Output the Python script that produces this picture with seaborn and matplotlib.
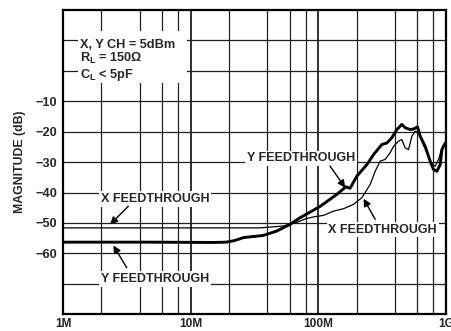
import numpy as np
import pandas as pd
import matplotlib
matplotlib.use("Agg")
import matplotlib.pyplot as plt
from matplotlib.patches import Rectangle
from matplotlib.ticker import FixedLocator, NullFormatter
import seaborn as sns

# Y-channel feedthrough (heavy trace): frequency in MHz, magnitude in dB
y_freq_mhz = [1, 5, 15, 19, 22, 26, 37, 47, 60, 72, 104, 140, 165, 178, 201, 241,
              272, 316, 346, 378, 414, 453, 481, 527, 559, 601, 631, 690, 755, 802,
              853, 905, 934, 991, 1000]
y_feed_db = [-56.3, -56.3, -56.4, -56.3, -55.8, -54.8, -54.1, -52.7, -50.5, -48.3,
             -44.5, -40.6, -38.1, -38.6, -34.6, -30.8, -27.5, -24.2, -23.7, -22.0,
             -19.3, -17.6, -18.7, -19.3, -19.1, -18.4, -21.5, -24.8, -29.7, -32.4,
             -33.0, -30.8, -25.9, -23.7, -23.7]

# X-channel feedthrough (light trace)
x_freq_mhz = [1, 35, 53, 68, 80, 92, 110, 132, 158, 189, 220, 256, 280, 306, 335,
              367, 390, 427, 453, 481, 511, 543, 576, 612, 650, 712, 780, 828, 879,
              934, 1000]
x_feed_db = [-51.6, -51.6, -51.0, -49.8, -48.6, -48.0, -47.5, -46.1, -45.3, -43.9,
             -41.7, -37.3, -33.0, -29.7, -29.1, -26.9, -24.8, -23.1, -22.6, -25.3,
             -25.9, -21.5, -19.8, -20.4, -23.1, -26.9, -30.8, -31.3, -29.1, -25.3,
             -23.7]

x_tick_vals = [1e6, 1e7, 1e8, 1e9]
x_tick_labels = ["1M", "10M", "100M", "1G"]
y_grid_vals = [10, 0, -10, -20, -30, -40, -50, -60, -70]
y_tick_labels = ["", "", "\u221210", "\u221220", "\u221230", "\u221240", "\u221250", "\u221260", ""]

conditions = ["X, Y CH = 5dBm", "R$_\\mathrm{L}$ = 150\u03a9", "C$_\\mathrm{L}$ < 5pF"]

sns.set_style("white")
plt.rcParams["font.family"] = ["Liberation Sans", "DejaVu Sans"]
plt.rcParams["font.weight"] = "bold"
plt.rcParams["mathtext.fontset"] = "custom"
plt.rcParams["mathtext.rm"] = "Liberation Sans:bold"
plt.rcParams["mathtext.it"] = "Liberation Sans:bold"
plt.rcParams["mathtext.bf"] = "Liberation Sans:bold"

df_y = pd.DataFrame({"f": np.array(y_freq_mhz) * 1e6, "db": y_feed_db})
df_x = pd.DataFrame({"f": np.array(x_freq_mhz) * 1e6, "db": x_feed_db})

fig = plt.figure(figsize=(4.52, 3.31), dpi=100)
ax = fig.add_axes([0.1394, 0.0505, 0.8467, 0.9193])

sns.lineplot(data=df_x, x="f", y="db", ax=ax, color="black", linewidth=0.9,
             zorder=4, estimator=None, sort=False)
sns.lineplot(data=df_y, x="f", y="db", ax=ax, color="black", linewidth=2.1,
             zorder=5, estimator=None, sort=False)

ax.set_xscale("log")
ax.set_xlim(1e6, 1e9)
ax.set_ylim(-80, 20)
ax.set_xlabel("")
ax.set_ylabel("MAGNITUDE (dB)", fontsize=8.8, fontweight="bold")
ax.yaxis.set_label_coords(-0.097, 0.5)

# grid: decades heavier, 2/4/6/8 subdivisions lighter
ax.xaxis.set_major_locator(FixedLocator(x_tick_vals))
ax.set_xticklabels(x_tick_labels, fontsize=8.6, fontweight="bold")
minor = [m * d for d in (1e6, 1e7, 1e8) for m in (2, 4, 6, 8)]
ax.xaxis.set_minor_locator(FixedLocator(minor))
ax.xaxis.set_minor_formatter(NullFormatter())
ax.set_yticks(y_grid_vals)
ax.set_yticklabels(y_tick_labels, fontsize=9.2, fontweight="bold")
ax.tick_params(axis="both", which="both", length=0)
ax.tick_params(axis="x", pad=2.5)
ax.tick_params(axis="y", pad=4)
ax.set_axisbelow(True)
ax.grid(True, axis="y", which="major", color="#202020", linewidth=0.9)
ax.grid(True, axis="x", which="major", color="#202020", linewidth=1.3)
ax.grid(True, axis="x", which="minor", color="#202020", linewidth=0.9)

for sp in ax.spines.values():
    sp.set_visible(True)
    sp.set_linewidth(1.6)
    sp.set_color("black")

# test-condition block
ax.add_patch(Rectangle((0.039, 0.760), 0.285, 0.171, transform=ax.transAxes,
                       facecolor="white", edgecolor="none", zorder=2))
for txt, yv in zip(conditions, [7.5, 2.8, -2.3]):
    ax.text(1.36e6, yv, txt, ha="left", va="baseline", fontsize=9.2,
            fontweight="bold", zorder=3)

box = dict(facecolor="white", edgecolor="none", pad=1.2)
labels = [
    ("X FEEDTHROUGH", 5.27e6, -43.1),
    ("Y FEEDTHROUGH", 5.27e6, -69.4),
    ("Y FEEDTHROUGH", 73.3e6, -29.7),
    ("X FEEDTHROUGH", 320.6e6, -53.2),
]
for txt, xv, yv in labels:
    ax.text(xv, yv, txt, ha="center", va="baseline", fontsize=9.0,
            fontweight="bold", bbox=box, zorder=3)

arrows = [
    ((3.25e6, -44.5), (2.34e6, -50.5)),
    ((3.16e6, -64.7), (2.48e6, -57.4)),
    ((124e6, -31.3), (163e6, -38.4)),
    ((280e6, -48.8), (227e6, -42.0)),
]
for tail, head in arrows:
    ax.annotate("", xy=head, xytext=tail,
                arrowprops=dict(arrowstyle="-|>", color="black", lw=1.0,
                                mutation_scale=11, shrinkA=0, shrinkB=0),
                zorder=6)

fig.savefig("out.png", dpi=100)
